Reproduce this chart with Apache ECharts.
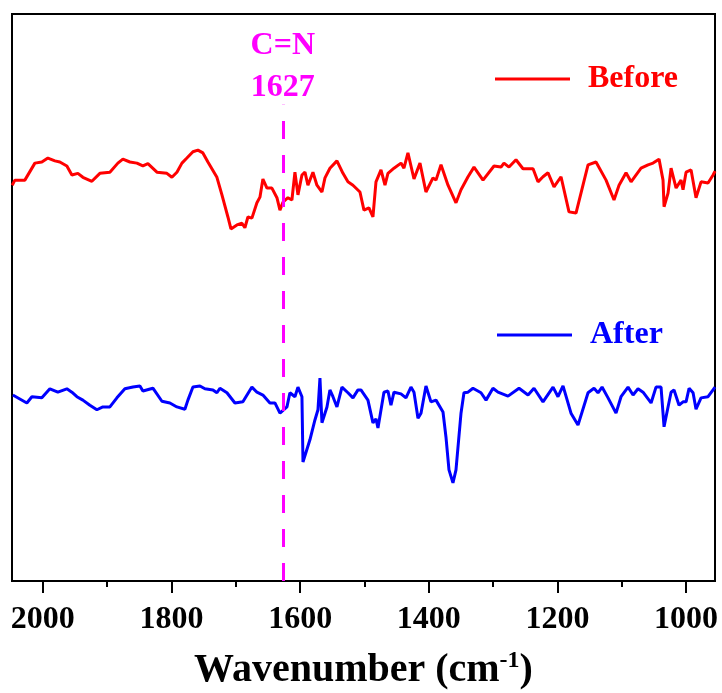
<!DOCTYPE html>
<html>
<head>
<meta charset="utf-8">
<script src="https://cdn.jsdelivr.net/npm/echarts@6/dist/echarts.min.js"></script>
<style>html,body{margin:0;padding:0;background:#fff;}#chart{width:722px;height:693px;}</style>
</head>
<body>
<div id="chart"></div>
<script>
const FONT = '"Liberation Serif","Times New Roman",serif';
const majorTicks = [2000, 1800, 1600, 1400, 1200, 1000];
const minorTicks = [1900, 1700, 1500, 1300, 1100];
const markerWn = 1627;
const markerLabel = ['C=N', '1627'];

const beforeWn = [2047.7,2043.5,2028.0,2012.4,2001.6,1992.2,1981.3,1973.6,1962.7,1954.9,1945.6,1937.8,1923.8,1911.4,1895.8,1883.4,1875.6,1864.7,1853.8,1844.5,1836.7,1822.7,1807.2,1799.4,1791.6,1783.8,1776.1,1766.7,1759.0,1751.2,1743.4,1729.4,1721.6,1712.3,1707.6,1698.3,1690.5,1685.9,1681.2,1675.0,1667.2,1662.5,1657.9,1651.6,1643.9,1636.1,1631.4,1626.8,1619.0,1612.8,1608.1,1603.4,1597.2,1592.5,1587.9,1580.1,1573.9,1566.1,1561.4,1553.7,1542.8,1533.4,1525.7,1517.9,1507.0,1500.8,1493.0,1486.8,1482.1,1474.3,1468.1,1463.5,1454.1,1443.2,1438.6,1432.4,1423.0,1413.7,1404.4,1393.5,1388.8,1381.0,1370.1,1357.7,1349.9,1339.0,1329.7,1315.7,1298.6,1287.7,1283.1,1275.3,1264.4,1253.5,1237.9,1230.2,1222.4,1214.6,1205.3,1194.4,1182.0,1171.1,1152.4,1140.0,1124.4,1112.0,1104.2,1093.3,1085.5,1070.0,1059.1,1051.3,1042.0,1035.8,1034.2,1028.0,1023.3,1015.5,1007.8,1004.7,1000.0,992.2,984.5,976.7,965.8,958.0,954.9];
const beforeT = [69.8,70.7,70.7,73.7,73.9,74.6,74.1,73.9,73.2,71.6,71.9,71.2,70.5,71.9,72.1,73.7,74.4,73.9,73.7,73.2,73.6,72.1,71.9,71.2,72.1,73.7,74.6,75.7,76.0,75.5,73.9,71.2,68.1,64.2,62.1,62.8,63.1,62.3,64.2,64.0,66.7,67.7,70.9,69.3,69.3,67.6,65.4,66.8,67.6,67.2,72.1,68.1,71.6,72.1,69.8,72.1,69.8,68.6,71.1,72.8,74.1,71.9,70.4,69.8,68.6,65.4,65.8,64.2,70.4,72.5,69.8,71.9,72.8,73.7,72.8,75.5,70.9,73.7,68.6,71.1,70.7,73.4,69.8,66.7,69.0,71.3,73.0,70.7,73.2,73.0,73.7,73.0,74.3,72.7,72.7,70.4,71.3,72.0,69.5,71.3,65.1,64.9,73.4,73.9,70.7,67.2,69.8,72.0,70.4,72.8,73.4,73.7,74.4,70.7,66.0,68.4,72.8,69.3,70.7,69.0,72.1,72.5,67.6,70.4,70.2,71.6,72.3];

const afterWn = [2046.7,2035.8,2024.9,2017.1,2001.6,1989.1,1976.7,1962.7,1954.9,1947.1,1937.8,1926.9,1916.0,1906.7,1895.8,1884.9,1872.5,1860.0,1849.1,1844.5,1828.9,1814.9,1802.5,1791.6,1779.2,1774.5,1766.7,1755.8,1748.1,1735.6,1729.4,1724.7,1713.8,1701.4,1689.0,1675.0,1667.2,1657.9,1647.0,1639.2,1631.4,1620.5,1615.9,1608.1,1603.4,1597.2,1595.6,1584.8,1577.0,1572.3,1569.2,1566.1,1558.3,1553.7,1549.0,1542.8,1535.0,1525.7,1517.9,1510.1,1505.5,1494.6,1486.8,1482.1,1479.0,1469.7,1463.5,1458.8,1454.1,1443.2,1435.5,1427.7,1423.0,1416.8,1412.1,1404.4,1396.6,1388.8,1377.9,1373.3,1368.6,1362.4,1357.7,1349.9,1345.3,1339.0,1331.3,1318.8,1311.0,1300.2,1292.4,1276.8,1259.7,1245.7,1236.4,1222.4,1206.8,1199.1,1191.3,1178.9,1168.0,1152.4,1143.1,1136.9,1130.6,1121.3,1108.9,1101.1,1090.2,1082.4,1074.7,1066.9,1054.4,1046.7,1038.9,1034.2,1028.0,1023.3,1018.7,1010.9,1004.7,1000.0,995.3,989.1,984.5,976.7,965.8,954.9];
const afterT = [32.8,32.1,31.4,32.5,32.3,33.9,33.3,33.9,33.3,32.5,31.9,31.0,30.2,30.7,30.7,32.3,33.9,34.2,34.4,33.5,34.0,31.7,31.4,30.7,30.3,31.9,34.2,34.4,33.9,33.7,33.2,34.0,33.2,31.4,31.6,34.2,33.3,32.8,31.4,31.4,29.6,30.7,33.2,32.5,34.2,32.5,21.0,24.9,28.4,30.2,35.8,27.9,30.7,33.7,32.5,30.7,34.2,33.2,32.3,33.7,33.7,31.9,27.9,28.6,27.0,33.3,33.5,31.0,33.3,33.0,32.3,34.2,33.3,28.7,29.6,34.4,31.6,31.9,29.8,25.4,19.6,17.3,19.6,29.6,33.2,33.3,34.0,33.2,31.9,34.0,33.3,32.6,34.0,32.8,34.0,31.6,34.2,32.5,34.4,29.6,27.5,33.2,34.0,33.2,34.2,32.3,29.6,32.5,34.2,32.8,33.9,33.3,31.4,34.2,34.2,27.2,30.7,33.3,33.7,31.0,31.6,31.6,34.0,33.2,30.3,32.3,32.5,34.2];

const zip = (xs, ys) => xs.map((x, i) => [x, ys[i]]);

const chart = echarts.init(document.getElementById('chart'), null, {renderer: 'canvas'});
const xBase = {type: 'value', min: 955, max: 2048, inverse: true, splitLine: {show: false}};
chart.setOption({
  animation: false,
  backgroundColor: '#fff',
  grid: {left: 12, right: 7, top: 14, bottom: 112, containLabel: false, outerBoundsMode: 'none',
         show: true, borderColor: '#000', borderWidth: 2, backgroundColor: 'transparent'},
  xAxis: [
    Object.assign({}, xBase, {
      position: 'bottom',
      axisLine: {show: true, onZero: false, lineStyle: {color: '#000', width: 2}},
      axisTick: {show: true, inside: false, length: 12, customValues: majorTicks, lineStyle: {color: '#000', width: 2}},
      axisLabel: {show: true, customValues: majorTicks, formatter: v => String(v), margin: 23, color: '#000', fontFamily: FONT, fontWeight: 'bold', fontSize: 32},
      name: '{t|Wavenumber (cm}{s|-1}{t|)}',
      nameLocation: 'middle',
      nameGap: 68,
      nameTextStyle: {
        rich: {
          t: {fontFamily: FONT, fontWeight: 'bold', fontSize: 40, color: '#000', verticalAlign: 'bottom', lineHeight: 42},
          s: {fontFamily: FONT, fontWeight: 'bold', fontSize: 24, color: '#000', verticalAlign: 'top', lineHeight: 42, padding: [0, 0, 15, 0]}
        }
      }
    }),
    Object.assign({}, xBase, {
      position: 'bottom',
      axisLine: {show: false},
      axisTick: {show: true, inside: false, length: 6, customValues: minorTicks, lineStyle: {color: '#000', width: 2}},
      axisLabel: {show: false}
    })
  ],
  yAxis: {
    type: 'value', min: 0, max: 100,
    axisLine: {show: true, lineStyle: {color: '#000', width: 2}},
    axisTick: {show: false}, axisLabel: {show: false}, splitLine: {show: false}
  },
  legend: [
    {data: ['Before'], left: 495, top: 63, padding: 0, icon: 'rect', itemWidth: 75, itemHeight: 3, selectedMode: false,
     textStyle: {color: '#ff0000', fontFamily: FONT, fontWeight: 'bold', fontSize: 32, padding: [0, 0, 0, 13]}},
    {data: ['After'], left: 497, top: 319, padding: 0, icon: 'rect', itemWidth: 75, itemHeight: 3, selectedMode: false,
     textStyle: {color: '#0000ff', fontFamily: FONT, fontWeight: 'bold', fontSize: 32, padding: [0, 0, 0, 13]}}
  ],
  series: [
    {
      name: 'Before', type: 'line', xAxisIndex: 0, data: zip(beforeWn, beforeT), symbol: 'none',
      lineStyle: {color: '#ff0000', width: 3}, itemStyle: {color: '#ff0000'},
      markLine: {
        silent: true, symbol: 'none',
        lineStyle: {color: '#ff00ff', width: 3, type: [18, 16]},
        label: {show: true, position: 'end', distance: -4, formatter: markerLabel.join('\n'), color: '#ff00ff',
                fontFamily: FONT, fontWeight: 'bold', fontSize: 32, lineHeight: 42},
        data: [[{coord: [markerWn, 0]}, {coord: [markerWn, 84]}]]
      }
    },
    {
      name: 'After', type: 'line', xAxisIndex: 0, data: zip(afterWn, afterT), symbol: 'none',
      lineStyle: {color: '#0000ff', width: 3}, itemStyle: {color: '#0000ff'}
    }
  ]
});
</script>
</body>
</html>
